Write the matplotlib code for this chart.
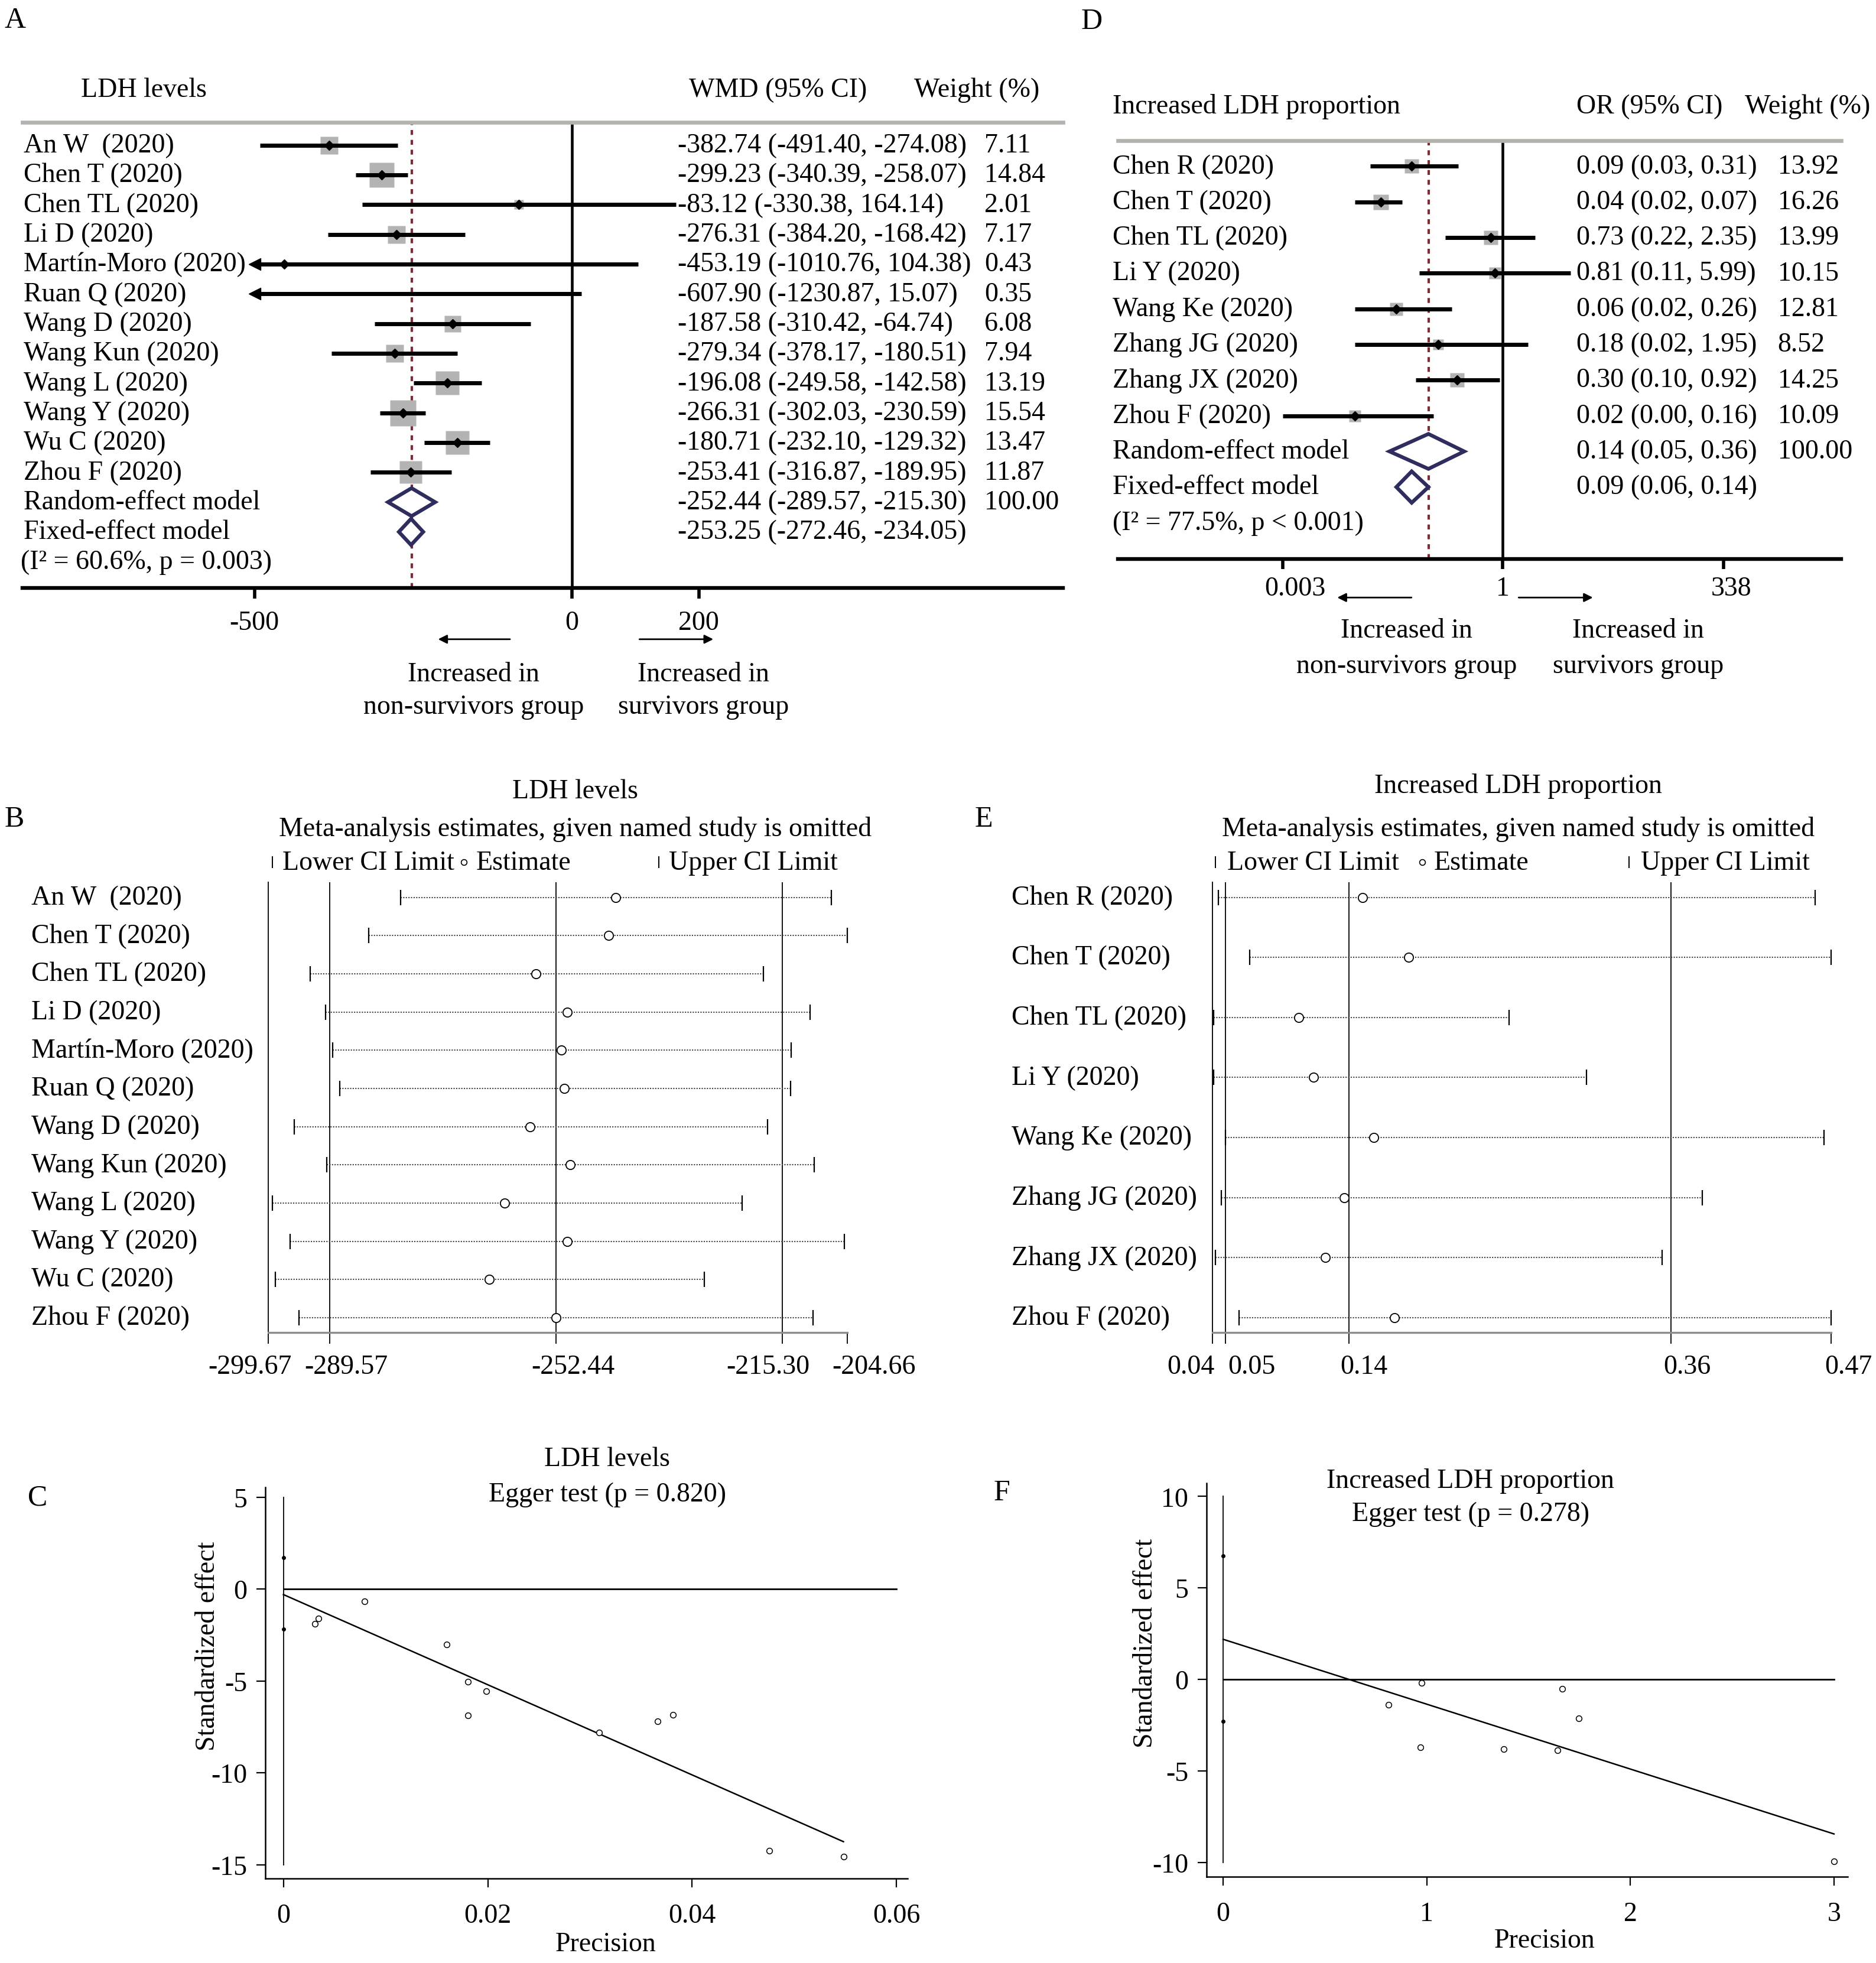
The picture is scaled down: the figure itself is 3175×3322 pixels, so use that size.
import numpy as np
import matplotlib
matplotlib.use("Agg")
import matplotlib.pyplot as plt
from matplotlib.ticker import NullLocator
from matplotlib.transforms import ScaledTranslation

plt.rcParams['font.family'] = ['Liberation Serif', 'DejaVu Serif']
plt.rcParams['axes.unicode_minus'] = False

FS = 33  # font size used for nearly all text

# ---------------- A: LDH levels, forest plot (WMD) ----------------
ldh_studies = ["An W  (2020)", "Chen T (2020)", "Chen TL (2020)", "Li D (2020)",
               "Martín-Moro (2020)", "Ruan Q (2020)", "Wang D (2020)", "Wang Kun (2020)",
               "Wang L (2020)", "Wang Y (2020)", "Wu C (2020)", "Zhou F (2020)"]
ldh_wmd = [-382.74, -299.23, -83.12, -276.31, -453.19, -607.90,
           -187.58, -279.34, -196.08, -266.31, -180.71, -253.41]
ldh_lo = [-491.40, -340.39, -330.38, -384.20, -1010.76, -1230.87,
          -310.42, -378.17, -249.58, -302.03, -232.10, -316.87]
ldh_hi = [-274.08, -258.07, 164.14, -168.42, 104.38, 15.07,
          -64.74, -180.51, -142.58, -230.59, -129.32, -189.95]
ldh_weight = [7.11, 14.84, 2.01, 7.17, 0.43, 0.35, 6.08, 7.94, 13.19, 15.54, 13.47, 11.87]
ldh_random = [-252.44, -289.57, -215.30]
ldh_fixed = [-253.25, -272.46, -234.05]
ldh_het = "(I² = 60.6%, p = 0.003)"
ldh_ticks = [-500, 0, 200]

# ---------------- D: increased LDH proportion, forest plot (OR) ----------------
prop_studies = ["Chen R (2020)", "Chen T (2020)", "Chen TL (2020)", "Li Y (2020)",
                "Wang Ke (2020)", "Zhang JG (2020)", "Zhang JX (2020)", "Zhou F (2020)"]
prop_or = [0.09, 0.04, 0.73, 0.81, 0.06, 0.18, 0.30, 0.02]
prop_lo = [0.03, 0.02, 0.22, 0.11, 0.02, 0.02, 0.10, 0.00]
prop_hi = [0.31, 0.07, 2.35, 5.99, 0.26, 1.95, 0.92, 0.16]
prop_weight = [13.92, 16.26, 13.99, 10.15, 12.81, 8.52, 14.25, 10.09]
prop_random = [0.14, 0.05, 0.36]
prop_fixed = [0.09, 0.06, 0.14]
prop_het = "(I² = 77.5%, p < 0.001)"
prop_ticks = [0.003, 1, 338]
prop_ticklabels = ["0.003", "1", "338"]

# ---------------- B: LDH levels, leave-one-out ----------------
inf_ldh_lo = [-277.96, -283.20, -292.80, -290.30, -289.10, -287.96,
              -295.40, -290.10, -299.03, -296.06, -298.50, -294.58]
inf_ldh_est = [-242.65, -243.80, -255.70, -250.60, -251.60, -251.10,
               -256.70, -250.10, -260.85, -250.60, -263.40, -252.44]
inf_ldh_hi = [-207.24, -204.66, -218.40, -210.70, -213.80, -213.97,
              -217.70, -210.00, -221.90, -205.07, -228.10, -210.20]
inf_ldh_ticks = [-299.67, -289.57, -252.44, -215.30, -204.66]
inf_ldh_ticklabels = ["-299.67", "-289.57", "-252.44", "-215.30", "-204.66"]

# ---------------- E: increased LDH proportion, leave-one-out ----------------
inf_prop_lo = [0.0487, 0.0705, 0.0454, 0.0454, 0.0537, 0.0508, 0.0466, 0.0631]
inf_prop_est = [0.1490, 0.1807, 0.1045, 0.1147, 0.1568, 0.1362, 0.1230, 0.1712]
inf_prop_hi = [0.4634, 0.4745, 0.2509, 0.3045, 0.4696, 0.3850, 0.3570, 0.4745]
inf_prop_ticks = [0.0445, 0.0536, 0.1395, 0.3632, 0.4745]
inf_prop_ticklabels = ["0.04", "0.05", "0.14", "0.36", "0.47"]

# ---------------- C: Egger, LDH levels ----------------
egg_ldh_x = [0.00307, 0.00343, 0.00792, 0.01595, 0.01808, 0.01985,
             0.01808, 0.03090, 0.03663, 0.03811, 0.04756, 0.05483]
egg_ldh_y = [-1.88, -1.59, -0.68, -3.02, -5.05, -5.55, -6.89, -7.81, -7.20, -6.85, -14.24, -14.58]
egg_ldh_ci = [1.70, -2.17]
egg_ldh_fit_x = [0.0, 0.0548]
egg_ldh_fit_y = [-0.30, -13.75]

# ---------------- F: Egger, increased LDH proportion ----------------
egg_prop_x = [0.812, 0.976, 0.970, 1.379, 1.642, 1.665, 1.747, 3.0]
egg_prop_y = [-1.40, -0.19, -3.73, -3.81, -3.88, -0.52, -2.14, -9.94]
egg_prop_ci = [6.76, -2.29]
egg_prop_fit_x = [0.0, 3.0]
egg_prop_fit_y = [2.19, -8.45]

NAVY = '#2f2c5e'
DASH = '#7b2e37'
BOXGRAY = '#b3b3b3'


def shift_ticklabels(ax, fig, offsets):
    # nudge x tick labels sideways (points) so neighbouring labels do not collide
    for lab, dx in zip(ax.get_xticklabels(), offsets):
        lab.set_transform(lab.get_transform() + ScaledTranslation(dx / 72, 0, fig.dpi_scale_trans))


def draw_forest(ax, names, est, lo, hi, weight, rnd, fix, het, clip_lo, box_k,
                zero, arrows, cols, heads, half):
    ytr = ax.get_yaxis_transform()
    n = len(names)
    for i in range(n):
        x0 = max(lo[i], clip_lo)
        ax.plot([x0, hi[i]], [i, i], color='black', lw=5, solid_capstyle='butt', zorder=3)
        if lo[i] < clip_lo and arrows:
            ax.plot(clip_lo, i, marker='<', ms=14, color='black', zorder=4)
        if est[i] >= clip_lo:
            ax.plot(est[i], i, marker='s', ms=box_k * np.sqrt(weight[i]),
                    color=BOXGRAY, mec='none', zorder=2)
            ax.plot(est[i], i, marker='D', ms=8, color='black', zorder=5)
        ax.text(cols[0], i, names[i], transform=ytr, fontsize=FS, va='center')
        ax.text(cols[1], i, f"{est[i]:.2f} ({lo[i]:.2f}, {hi[i]:.2f})",
                transform=ytr, fontsize=FS, va='center')
        ax.text(cols[2], i, f"{weight[i]:.2f}", transform=ytr, fontsize=FS, va='center')

    # pooled diamonds
    for row, p, h, label in [(n, rnd, half[0], "Random-effect model"),
                             (n + 1, fix, half[1], "Fixed-effect model")]:
        ax.fill([p[1], p[0], p[2], p[0]], [row, row - h, row, row + h],
                facecolor='white', edgecolor=NAVY, lw=4.5, zorder=4)
        ax.text(cols[0], row, label, transform=ytr, fontsize=FS, va='center')
        ax.text(cols[1], row, f"{p[0]:.2f} ({p[1]:.2f}, {p[2]:.2f})",
                transform=ytr, fontsize=FS, va='center')
    ax.text(cols[2], n, "100.00", transform=ytr, fontsize=FS, va='center')
    ax.text(cols[3], n + 2, het, transform=ytr, fontsize=FS, va='center')

    ax.axvline(zero, color='black', lw=3.3, zorder=1)
    ax.axvline(rnd[0], color=DASH, lw=3, ls=(0, (2, 2)), zorder=1)

    # header
    ax.text(heads[0], heads[3], heads[4], transform=ytr, fontsize=FS, va='center', ha=heads[5])
    ax.text(heads[1], heads[3], heads[6], transform=ytr, fontsize=FS, va='center')
    ax.text(heads[2], heads[3], "Weight (%)", transform=ytr, fontsize=FS, va='center')

    for s in ['left', 'right']:
        ax.spines[s].set_visible(False)
    ax.spines['top'].set_color('#b5b2ae')
    ax.spines['top'].set_linewidth(4.8)
    ax.spines['bottom'].set_linewidth(4.6)
    ax.set_yticks([])


def direction_notes(ax, arrow_y, text_y, larr, rarr, lx, rx):
    ytr = ax.get_yaxis_transform()
    kw = dict(arrowprops=dict(arrowstyle='-|>', color='black', lw=2, mutation_scale=22),
              xycoords=ytr, textcoords=ytr)
    ax.annotate("", xy=(larr[1], arrow_y), xytext=(larr[0], arrow_y), **kw)
    ax.annotate("", xy=(rarr[1], arrow_y), xytext=(rarr[0], arrow_y), **kw)
    ax.text(lx, text_y[0], "Increased in", transform=ytr, fontsize=FS, ha='center', va='center')
    ax.text(lx, text_y[1], "non-survivors group", transform=ytr, fontsize=FS, ha='center', va='center')
    ax.text(rx, text_y[0], "Increased in", transform=ytr, fontsize=FS, ha='center', va='center')
    ax.text(rx, text_y[1], "survivors group", transform=ytr, fontsize=FS, ha='center', va='center')


def draw_influence(ax, names, lo, est, hi, ref, ticks, ticklabels, ylim, label_x,
                   title, title_y, marks):
    ytr = ax.get_yaxis_transform()
    ax.set_xlim(ticks[0], ticks[-1])
    ax.set_ylim(*ylim)
    for x in ref:
        ax.axvline(x, color='black', lw=1.3, zorder=1)
    for i in range(len(names)):
        ax.plot([lo[i], hi[i]], [i, i], color='#444444', lw=1.5, ls=(0, (1, 1.1)), zorder=2)
        ax.plot([lo[i], hi[i]], [i, i], ls='none', marker='|', ms=19, mew=1.6,
                color='black', zorder=3, clip_on=False)
        ax.plot(est[i], i, marker='o', ms=11, mfc='white', mec='black', mew=1.3, zorder=4)
        ax.text(label_x, i, names[i], transform=ytr, fontsize=FS, va='center')

    ax.text(title[2], title_y[0], title[0], transform=ax.transAxes, fontsize=FS, ha='center', va='center')
    ax.text(title[2], title_y[1], title[1], transform=ax.transAxes, fontsize=FS, ha='center', va='center')
    # legend line
    ly = title_y[2]
    ax.plot(marks[0], ly, marker='|', ms=14, mew=1.4, color='black', transform=ax.transAxes, clip_on=False)
    ax.text(marks[1], ly, "Lower CI Limit", transform=ax.transAxes, fontsize=FS, va='center')
    ax.plot(marks[2], ly, marker='o', ms=7, mfc='white', mec='black', mew=1.2,
            transform=ax.transAxes, clip_on=False)
    ax.text(marks[3], ly, "Estimate", transform=ax.transAxes, fontsize=FS, va='center')
    ax.plot(marks[4], ly, marker='|', ms=14, mew=1.4, color='black', transform=ax.transAxes, clip_on=False)
    ax.text(marks[5], ly, "Upper CI Limit", transform=ax.transAxes, fontsize=FS, va='center')

    ax.set_xticks(ticks, ticklabels)
    ax.tick_params(axis='x', labelsize=FS, length=14, width=1.3, pad=12)
    ax.set_yticks([])
    for s in ['top', 'right']:
        ax.spines[s].set_visible(False)
    ax.spines['left'].set_linewidth(1.3)
    ax.spines['bottom'].set_color('#8c8c8c')
    ax.spines['bottom'].set_linewidth(2.4)


def draw_egger(ax, x, y, ci, fit_x, fit_y, xlim, ylim, xticks, xlabels, yticks,
               vspan, hend, title, tx, ylab_pos, xlab_pos):
    ax.plot([0, 0], vspan, color='black', lw=1.3)
    ax.plot([0, hend], [0, 0], color='black', lw=2)
    ax.plot(fit_x, fit_y, color='black', lw=1.8)
    ax.plot(x, y, ls='none', marker='o', ms=7, mfc='white', mec='black', mew=1.1)
    ax.plot([0, 0], ci, ls='none', marker='o', ms=4, color='black')
    ax.set_xlim(*xlim)
    ax.set_ylim(*ylim)
    ax.set_xticks(xticks, xlabels)
    ax.set_yticks(yticks)
    ax.tick_params(labelsize=FS, length=11, width=1.6)
    ax.tick_params(axis='x', pad=19)
    ax.tick_params(axis='y', pad=11)
    for s in ['top', 'right']:
        ax.spines[s].set_visible(False)
    for s in ['left', 'bottom']:
        ax.spines[s].set_linewidth(1.8)
    ax.text(tx[0], tx[1], title[0], transform=ax.transAxes, fontsize=FS, ha='center', va='center')
    ax.text(tx[0], tx[2], title[1], transform=ax.transAxes, fontsize=FS, ha='center', va='center')
    ax.text(ylab_pos[0], ylab_pos[1], "Standardized effect", transform=ax.transAxes,
            fontsize=FS, rotation=90, ha='center', va='center')
    ax.text(xlab_pos[0], xlab_pos[1], "Precision", transform=ax.transAxes,
            fontsize=FS, ha='center', va='center')


fig = plt.figure(figsize=(31.75, 33.23), dpi=100)

# ---- A ----
axA = fig.add_axes([0.0120, 0.70013, 0.5547, 0.23713])
axA.set_xlim(-865.2, 773.8)
axA.set_ylim(14.895, -0.761)
draw_forest(axA, ldh_studies, ldh_wmd, ldh_lo, ldh_hi, ldh_weight, ldh_random, ldh_fixed,
            ldh_het, clip_lo=-500, box_k=7.9, zero=0, arrows=True,
            cols=[0.001, 0.6298, 0.9243, -0.0017],
            heads=[0.1166, 0.6406, 0.857, -1.867, "LDH levels", 'center', "WMD (95% CI)"],
            half=[0.47, 0.44])
axA.set_xticks(ldh_ticks, [str(t) for t in ldh_ticks])
axA.tick_params(axis='x', labelsize=FS, length=13, width=4, pad=14)
direction_notes(axA, 16.61, [17.78, 18.87], [0.4700, 0.3978], [0.5913, 0.6654], 0.4334, 0.6543)

# ---- D ----
axD = fig.add_axes([0.5959, 0.71490, 0.3854, 0.21319])
axD.set_xscale('log')
axD.set_xlim(10 ** -4.416, 10 ** 3.878)
axD.set_ylim(11.025, -0.719)
draw_forest(axD, prop_studies, prop_or, prop_lo, prop_hi, prop_weight, prop_random, prop_fixed,
            prop_het, clip_lo=0.003, box_k=4.6, zero=1, arrows=False,
            cols=[-0.0074, 0.6344, 0.9126, -0.0074],
            heads=[-0.0074, 0.6344, 0.8673, -1.684, "Increased LDH proportion", 'left', "OR (95% CI)"],
            half=[0.49, 0.44])
axD.set_xticks(prop_ticks, prop_ticklabels)
axD.xaxis.set_minor_locator(NullLocator())
axD.tick_params(axis='x', labelsize=FS, length=12, width=4, pad=8)
shift_ticklabels(axD, fig, [15, 0, 10])
direction_notes(axD, 12.10, [13.02, 14.01], [0.4083, 0.3011], [0.5520, 0.6592], 0.3992, 0.7198)

# ---- B ----
axB = fig.add_axes([0.1430, 0.32102, 0.3085, 0.22930])
draw_influence(axB, ldh_studies, inf_ldh_lo, inf_ldh_est, inf_ldh_hi, ldh_random,
               inf_ldh_ticks, inf_ldh_ticklabels, (11.391, -0.393), -0.4095,
               ["LDH levels", "Meta-analysis estimates, given named study is omitted", 0.5305],
               [1.2028, 1.1186, 1.0444],
               [0.0076, 0.024, 0.3382, 0.3593, 0.6752, 0.6925])
shift_ticklabels(axB, fig, [-22, 20, 21, -17, 33])

# ---- E ----
axE = fig.add_axes([0.6463, 0.32102, 0.3297, 0.22930])
draw_influence(axE, prop_studies, inf_prop_lo, inf_prop_est, inf_prop_hi, inf_prop_ticks[1:4],
               inf_prop_ticks, inf_prop_ticklabels, (7.25, -0.25), -0.3244,
               ["Increased LDH proportion", "Meta-analysis estimates, given named study is omitted", 0.494],
               [1.2156, 1.1186, 1.0444],
               [0.0049, 0.0241, 0.339, 0.358, 0.6738, 0.6928])
shift_ticklabels(axE, fig, [-26, 32, 18, 20, 21])

# ---- C ----
axC = fig.add_axes([0.1414, 0.04312, 0.3423, 0.19905])
draw_egger(axC, egg_ldh_x, egg_ldh_y, egg_ldh_ci, egg_ldh_fit_x, egg_ldh_fit_y,
           (-0.001775, 0.06106), (-15.745, 5.528), [0, 0.02, 0.04, 0.06],
           ["0", "0.02", "0.04", "0.06"], [5, 0, -5, -10, -15], [5, -15], 0.06,
           ["LDH levels", "Egger test (p = 0.820)"], [0.5327, 1.073, 0.982],
           [-0.0892, 0.5955], [0.5306, -0.168])

# ---- F ----
axF = fig.add_axes([0.6431, 0.04401, 0.3417, 0.20038])
draw_egger(axF, egg_prop_x, egg_prop_y, egg_prop_ci, egg_prop_fit_x, egg_prop_fit_y,
           (-0.0817, 3.0663), (-10.78, 10.725), [0, 1, 2, 3], ["0", "1", "2", "3"],
           [10, 5, 0, -5, -10], [10, -10], 3,
           ["Increased LDH proportion", "Egger test (p = 0.278)"], [0.4121, 1.0073, 0.9215],
           [-0.0954, 0.594], [0.5278, -0.1624])

# panel letters
for letter, x, y in [("A", 0.0082, 0.9895), ("B", 0.0075, 0.5826), ("C", 0.0199, 0.2371),
                     ("D", 0.5820, 0.9890), ("E", 0.5245, 0.5826), ("F", 0.5340, 0.2395)]:
    fig.text(x, y, letter, fontsize=36, ha='center', va='center')

fig.savefig("out.png", dpi=100)
